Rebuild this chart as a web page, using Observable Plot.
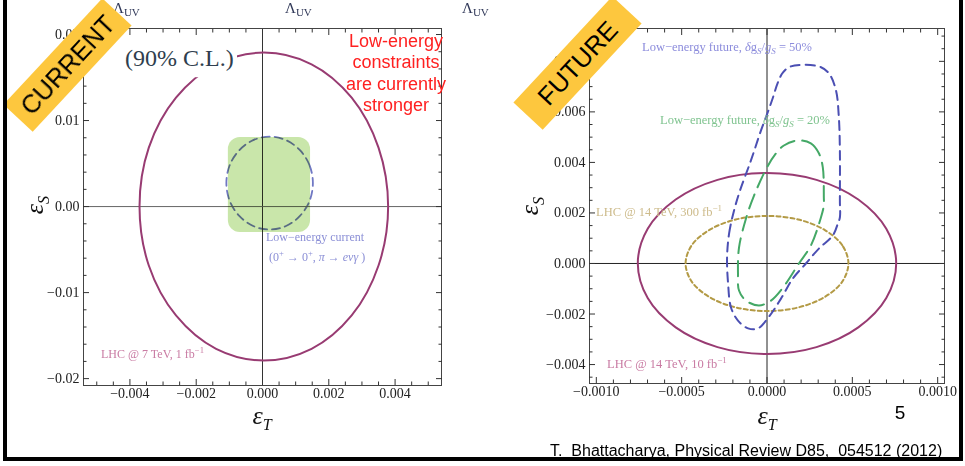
<!DOCTYPE html>
<html><head><meta charset="utf-8">
<script src="https://cdn.jsdelivr.net/npm/d3@7"></script>
<script src="https://cdn.jsdelivr.net/npm/@observablehq/plot@0.6"></script>
<style>
html,body{margin:0;padding:0;background:#fff;}
#slide{position:relative;width:965px;height:466px;overflow:hidden;background:#fff;font-family:"Liberation Serif",serif;}
#slide svg{position:absolute;top:0;}
.abs{position:absolute;white-space:nowrap;line-height:1.15;}
.vc{transform:translateY(-50%);}
.cc{transform:translate(-50%,-50%);}
sub,sup{font-size:0.72em;line-height:0;}
.ax{font-family:"Liberation Serif",serif;font-style:italic;font-size:26px;color:#111;}
.ax sub{font-size:0.62em;vertical-align:-0.35em;}
.banner{position:absolute;width:145px;height:40px;background:#fdc73e;display:flex;align-items:center;justify-content:center;font-family:"Liberation Sans",Arial,sans-serif;font-size:25.5px;color:#000;transform:rotate(-47deg);}
.sans{font-family:"Liberation Sans",Arial,sans-serif;}
.lam{position:absolute;white-space:nowrap;top:1px;font-size:15px;line-height:15px;color:#303858;}
.lam span{font-size:11px;position:relative;top:3px;}
</style></head>
<body><div id="slide"></div>
<script>
// ---------- data ----------
// Left panel: current constraints
const lhc7TeV = [
  [0.00379, 0], [0.00350, 0.00685], [0.00269, 0.01266], [0.00148, 0.01654],
  [0.00004, 0.0179], [-0.00140, 0.01654], [-0.00261, 0.01266], [-0.00343, 0.00685],
  [-0.00371, 0], [-0.00343, -0.00685], [-0.00261, -0.01266], [-0.00140, -0.01654],
  [0.00004, -0.0179], [0.00148, -0.01654], [0.00269, -0.01266], [0.00350, -0.00685]
];
const lowEnergyCurrent = [
  [0.00152, 0.00273], [0.00142, 0.00480], [0.00113, 0.00655], [0.00071, 0.00772],
  [0.000215, 0.00813], [-0.00028, 0.00772], [-0.00070, 0.00655], [-0.00099, 0.00480],
  [-0.00109, 0.00273], [-0.00099, 0.00066], [-0.00070, -0.00109], [-0.00028, -0.00226],
  [0.000215, -0.00267], [0.00071, -0.00226], [0.00113, -0.00109], [0.00142, 0.00066]
];
const currentBoxX = [-0.00103, 0.00145];
const currentBoxY = [-0.00302, 0.00802];

// Right panel: future projections
const lhc14TeV10 = [
  [0.000757, 0], [0.000699, 0.00137], [0.000535, 0.00253], [0.000290, 0.00331],
  [0, 0.00358], [-0.000290, 0.00331], [-0.000535, 0.00253], [-0.000699, 0.00137],
  [-0.000757, 0], [-0.000699, -0.00137], [-0.000535, -0.00253], [-0.000290, -0.00331],
  [0, -0.00358], [0.000290, -0.00331], [0.000535, -0.00253], [0.000699, -0.00137]
];
const lhc14TeV300 = [
  [0.000477, 0], [0.000441, 0.00072], [0.000337, 0.00133], [0.000183, 0.00174],
  [0, 0.00188], [-0.000183, 0.00174], [-0.000337, 0.00133], [-0.000441, 0.00072],
  [-0.000477, 0], [-0.000441, -0.00072], [-0.000337, -0.00133], [-0.000183, -0.00174],
  [0, -0.00188], [0.000183, -0.00174], [0.000337, -0.00133], [0.000441, -0.00072]
];
const future50 = [
  [-0.000234, 0.00024], [-0.000222, 0.00119], [-0.000193, 0.00210], [-0.000158, 0.00289],
  [-0.000094, 0.00408], [-0.000035, 0.00527], [0.000000, 0.00590], [0.000035, 0.00657],
  [0.000064, 0.00717], [0.000094, 0.00756], [0.000140, 0.00780], [0.000304, 0.00780],
  [0.000363, 0.00752], [0.000404, 0.00685], [0.000421, 0.00578], [0.000427, 0.00448],
  [0.000427, 0.00250], [0.000427, 0.00182], [0.000415, 0.00158], [0.000386, 0.00111],
  [0.000304, 0.00059], [0.000228, 0.00000], [0.000152, -0.00059], [0.000082, -0.00139],
  [0.000012, -0.00210], [-0.000053, -0.00257], [-0.000111, -0.00257], [-0.000170, -0.00226],
  [-0.000211, -0.00174], [-0.000228, -0.00079]
];
const future20 = [
  [0.000181, 0.00487], [0.000257, 0.00475], [0.000304, 0.00436], [0.000327, 0.00380],
  [0.000333, 0.00261], [0.000333, 0.00230], [0.000316, 0.00182], [0.000257, 0.00071],
  [0.000187, 0.00000], [0.000094, -0.00095], [0.000023, -0.00147], [-0.000047, -0.00166],
  [-0.000123, -0.00147], [-0.000164, -0.00107], [-0.000170, -0.00040], [-0.000164, 0.00063],
  [-0.000123, 0.00178], [-0.000076, 0.00269], [0.000000, 0.00380], [0.000053, 0.00436],
  [0.000099, 0.00467]
];

// Tick values
const xMajorL = [-0.004, -0.002, 0, 0.002, 0.004];
const xMinorL = [-0.005, -0.0045, -0.0035, -0.003, -0.0025, -0.0015, -0.001, -0.0005,
  0.0005, 0.001, 0.0015, 0.0025, 0.003, 0.0035, 0.0045, 0.005];
const yMajorL = [-0.02, -0.01, 0, 0.01, 0.02];
const yMinorL = [-0.018, -0.016, -0.014, -0.012, -0.008, -0.006, -0.004, -0.002,
  0.002, 0.004, 0.006, 0.008, 0.012, 0.014, 0.016, 0.018];
const xMajorR = [-0.001, -0.0005, 0, 0.0005, 0.001];
const xMinorR = [-0.0009, -0.0008, -0.0007, -0.0006, -0.0004, -0.0003, -0.0002, -0.0001,
  0.0001, 0.0002, 0.0003, 0.0004, 0.0006, 0.0007, 0.0008, 0.0009];
const yMajorR = [-0.004, -0.002, 0, 0.002, 0.004, 0.006, 0.008];
const yMinorR = [-0.0045, -0.0035, -0.003, -0.0025, -0.0015, -0.001, -0.0005,
  0.0005, 0.001, 0.0015, 0.0025, 0.003, 0.0035, 0.0045, 0.005, 0.0055, 0.0065, 0.007, 0.0075, 0.0085, 0.009];

// ---------- drawing ----------
const slide = document.getElementById("slide");
const baseStyle = {background: "transparent", overflow: "visible", fontFamily: "'Liberation Serif', serif", fontSize: "14px", color: "#222"};

function frameAxes(xMajor, xMinor, yMajor, yMinor, xFmt, yFmt) {
  const s = "#333";
  return [
    Plot.axisX(xMajor, {anchor: "bottom", tickSize: -6, tickPadding: 9, tickFormat: xFmt, label: null, stroke: s}),
    Plot.axisX(xMinor, {anchor: "bottom", tickSize: -3.5, fill: "none", stroke: s}),
    Plot.axisX(xMajor, {anchor: "top", tickSize: -6, fill: "none", stroke: s}),
    Plot.axisX(xMinor, {anchor: "top", tickSize: -3.5, fill: "none", stroke: s}),
    Plot.axisY(yMajor, {anchor: "left", tickSize: -6, tickPadding: 10, tickFormat: yFmt, label: null, stroke: s}),
    Plot.axisY(yMinor, {anchor: "left", tickSize: -3.5, fill: "none", stroke: s}),
    Plot.axisY(yMajor, {anchor: "right", tickSize: -6, fill: "none", stroke: s}),
    Plot.axisY(yMinor, {anchor: "right", tickSize: -3.5, fill: "none", stroke: s})
  ];
}

const currentBox = [{x1: currentBoxX[0], x2: currentBoxX[1], y1: currentBoxY[0], y2: currentBoxY[1]}];

const left = Plot.plot({
  width: 460, height: 466,
  marginLeft: 83, marginRight: 19, marginTop: 28, marginBottom: 81,
  x: {domain: [-0.0054, 0.0054]},
  y: {domain: [-0.0208, 0.0207]},
  style: baseStyle,
  marks: [
    Plot.line(lowEnergyCurrent, {curve: "catmull-rom-closed", stroke: "#7078c4", strokeWidth: 1.8, strokeDasharray: "8,5"}),
    Plot.ruleX([0], {stroke: "#333", strokeWidth: 1}),
    Plot.ruleY([0], {stroke: "#666", strokeWidth: 1}),
    Plot.rect(currentBox, {x1: "x1", x2: "x2", y1: "y1", y2: "y2", fill: "#c9e6aa", rx: 12, mixBlendMode: "multiply"}),
    Plot.line(lhc7TeV, {curve: "catmull-rom-closed", stroke: "#983b72", strokeWidth: 2}),
    Plot.frame({stroke: "#444"}),
    ...frameAxes(xMajorL, xMinorL, yMajorL, yMinorL, d3.format(".3f"), d3.format(".2f"))
  ]
});
left.style.left = "0px";
slide.appendChild(left);

const right = Plot.plot({
  width: 505, height: 466,
  marginLeft: 129, marginRight: 21, marginTop: 28, marginBottom: 83,
  x: {domain: [-0.00104, 0.00104]},
  y: {domain: [-0.00475, 0.0093]},
  style: baseStyle,
  marks: [
    Plot.ruleX([0], {stroke: "#222", strokeWidth: 1}),
    Plot.ruleY([0], {stroke: "#222", strokeWidth: 1}),
    Plot.line(lhc14TeV10, {curve: "catmull-rom-closed", stroke: "#983b72", strokeWidth: 2}),
    Plot.line(lhc14TeV300, {curve: "catmull-rom-closed", stroke: "#b39a45", strokeWidth: 2, strokeDasharray: "4,3"}),
    Plot.line(future50, {curve: "catmull-rom-closed", stroke: "#4b4fb3", strokeWidth: 2, strokeDasharray: "9,6"}),
    Plot.line(future20, {curve: "catmull-rom-closed", stroke: "#44a866", strokeWidth: 2, strokeDasharray: "15,8"}),
    Plot.frame({stroke: "#444"}),
    ...frameAxes(xMajorR, xMinorR, yMajorR, yMinorR, d3.format(".4f"), d3.format(".3f"))
  ]
});
right.style.left = "460px";
slide.appendChild(right);

// ---------- text overlays ----------
const html = `
<div class="lam" style="left:113px">Λ<span>UV</span></div>
<div class="lam" style="left:285px">Λ<span>UV</span></div>
<div class="lam" style="left:462px">Λ<span>UV</span></div>

<div class="abs vc" style="left:122px;top:61px;font-size:24px;color:#2f3e4e;background:#fff;padding:0 3px 4px 3px">(90% C.L.)</div>
<div class="abs sans" style="left:396px;top:31px;transform:translateX(-50%);font-size:18px;line-height:21.3px;text-align:center;color:#ff2020">Low-energy<br>constraints<br>are currently<br>stronger</div>
<div class="abs vc" style="left:266px;top:238px;font-size:12px;color:#8b8fd6">Low−energy current</div>
<div class="abs vc" style="left:269px;top:258px;font-size:12px;color:#8b8fd6">(0<sup>+</sup> → 0<sup>+</sup>, <i>π</i> → <i>eνγ</i> )</div>
<div class="abs vc" style="left:101px;top:355px;font-size:12px;color:#c97ba3">LHC @ 7 TeV, 1 fb<sup>−1</sup></div>

<div class="abs vc" style="left:642px;top:47px;font-size:12.5px;color:#8c8cdc">Low−energy future, <i>δ</i>g<sub><i>S</i></sub>/<i>g<sub>S</sub></i> = 50%</div>
<div class="abs vc" style="left:660px;top:120px;font-size:12.5px;color:#80c490">Low−energy future, <i>δ</i>g<sub><i>S</i></sub>/<i>g<sub>S</sub></i> = 20%</div>
<div class="abs vc" style="left:596px;top:212px;font-size:12.5px;color:#cdbb8b">LHC @ 14 TeV, 300 fb<sup>−1</sup></div>
<div class="abs vc" style="left:607px;top:364px;font-size:12.5px;color:#c97ba3">LHC @ 14 TeV, 10 fb<sup>−1</sup></div>

<div class="abs ax cc" style="left:262px;top:416px">ε<sub>T</sub></div>
<div class="abs ax cc" style="left:767px;top:416px">ε<sub>T</sub></div>
<div class="abs ax" style="left:35px;top:205px;transform:translate(-50%,-50%) rotate(-90deg)">ε<sub>S</sub></div>
<div class="abs ax" style="left:530px;top:206px;transform:translate(-50%,-50%) rotate(-90deg)">ε<sub>S</sub></div>

<div class="abs sans cc" style="left:900px;top:413px;font-size:19px;color:#000">5</div>
<div class="abs sans vc" style="left:550px;top:451px;font-size:16px;color:#000;white-space:pre">T.  Bhattacharya, Physical Review D85,  054512 (2012)</div>

<div class="banner" style="left:-5.5px;top:45px">CURRENT</div>
<div class="banner" style="left:504.5px;top:43px">FUTURE</div>

<div style="position:absolute;left:3px;top:-10px;width:960px;height:471px;box-sizing:border-box;border:4px solid #000;pointer-events:none"></div>
`;
slide.insertAdjacentHTML("beforeend", html);
</script>
</body></html>
